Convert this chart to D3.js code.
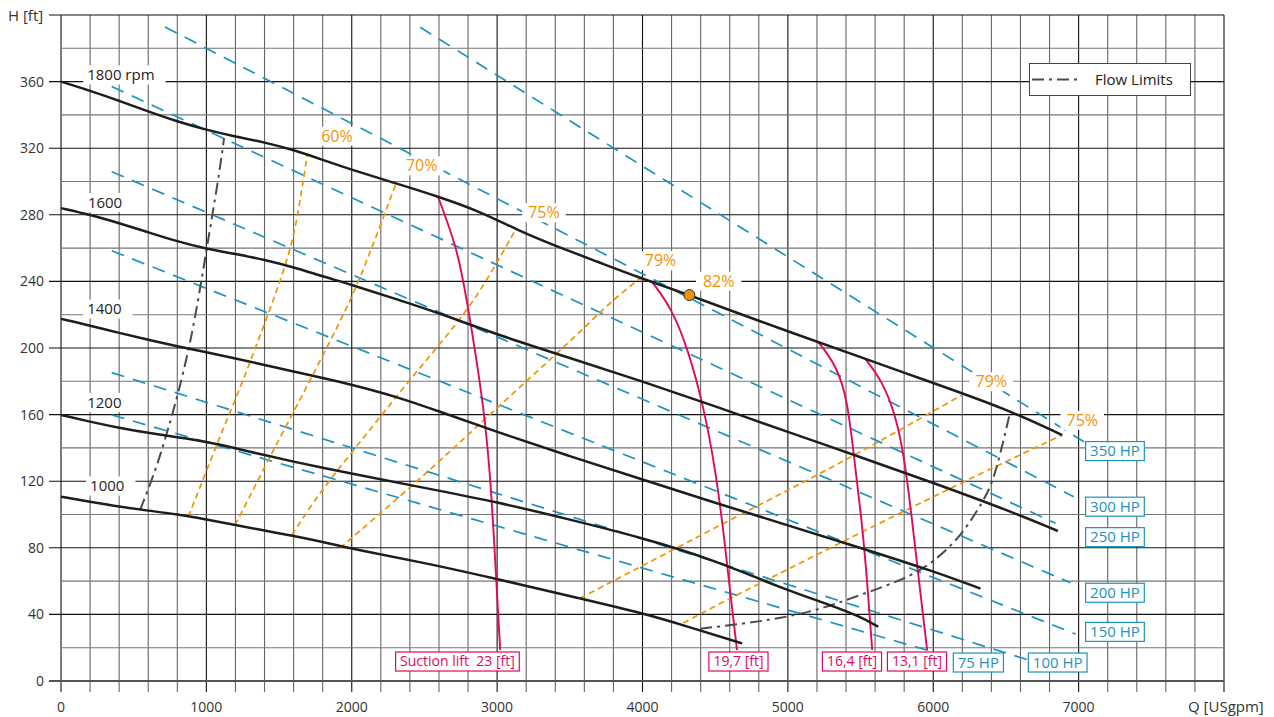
<!DOCTYPE html>
<html>
<head>
<meta charset="utf-8">
<script src="https://cdn.jsdelivr.net/npm/d3@7"></script>
<style>
body { margin: 0; background: #fff; }
text { font-family: 'Open Sans', sans-serif; }
</style>
</head>
<body>
<script>
// speed curves (Q in USgpm, H in ft)
const speeds = ['1800 rpm', '1600', '1400', '1200', '1000'];
const speedQ = [
    [0, 200, 400, 600, 800, 1000, 1200, 1400, 1600, 1800, 2000, 2300, 2593, 2884, 3159, 3411, 3700, 3985, 4322, 4700, 5000, 5500, 6000, 6500, 6887],
    [0, 200, 400, 600, 800, 1000, 1200, 1400, 1600, 1800, 2000, 2300, 2600, 3000, 3500, 4000, 4500, 5000, 5500, 6000, 6500, 6857],
    [0, 200, 400, 600, 800, 1000, 1200, 1400, 1600, 1800, 2000, 2300, 2600, 3000, 3500, 4000, 4500, 5000, 5500, 6000, 6325],
    [0, 200, 400, 600, 800, 1000, 1200, 1400, 1600, 1800, 2000, 2500, 3000, 3500, 4000, 4500, 4948, 5293, 5499, 5622],
    [0, 200, 400, 600, 800, 1000, 1200, 1400, 1600, 1800, 1900, 2000, 2500, 3000, 3572, 4008, 4300, 4685]
];
const speedH = [
    [360, 354.5, 348.5, 342, 336, 331, 327, 323.5, 319, 313, 307, 299, 291, 282, 270, 261, 251.5, 242, 231.8, 219.5, 210, 194.5, 179, 163.5, 147.7],
    [284, 280, 275, 269.5, 264, 259.5, 256.5, 253, 248.5, 243, 238, 229.5, 221, 208, 194, 180, 165, 149.5, 134.5, 119, 103, 90.1],
    [217.5, 213.5, 209, 205, 201, 197.4, 193.8, 189.8, 185.8, 182, 178, 171, 162, 149.5, 135, 121, 107, 93.5, 80, 66, 55.5],
    [159.8, 155.7, 152, 149, 146.4, 143.7, 139.8, 135.7, 131.7, 128.1, 124.5, 116, 107.5, 97, 86, 72.5, 56, 45.6, 38.6, 32.6],
    [110.7, 107.7, 104.7, 102.3, 100.1, 97.1, 93.7, 90.3, 87.1, 83.5, 81.5, 79.5, 71, 61.3, 49.5, 40.6, 33, 22.6]
];

// power lines
const powers = ['350 HP', '300 HP', '250 HP', '200 HP', '150 HP', '100 HP', '75 HP'];
const powerQ = [[2471, 7036], [716, 6966], [349, 6841], [349, 6944], [349, 6979], [349, 6655], [349, 6098]];
const powerH = [[392.6, 143.7], [392.8, 110.7], [357, 94.7], [305.9, 59], [258.4, 28.2], [185.2, 12.6], [159.8, 15]];

// efficiency curves
const effNames = ['60%', '70%', '75%', '79%', '79%', '75%'];
const effQ = [
    [876, 1071, 1301, 1576, 1667, 1695],
    [1198, 1434, 1714, 1989, 2150, 2306],
    [1588, 1782, 2300, 2838, 3125],
    [1920, 2500, 3000, 3500, 3801, 3997],
    [3572, 4500, 5400, 6199],
    [4281, 4581, 6118, 6887]
];
const effH = [
    [98.7, 141.7, 191.8, 259.8, 300.9, 317],
    [93.7, 134, 180.8, 228.8, 263, 299.3],
    [87.7, 112.7, 170, 228.8, 270.9],
    [79.9, 124, 164, 204, 228.8, 242.8],
    [49.8, 92, 133, 171.8],
    [34.8, 48.6, 115.7, 147.7]
];
const bestName = '82%';
const bestQ = 4322;
const bestH = 231.8;

// suction lift curves
const lifts = ['Suction lift  23 [ft]', '19,7 [ft]', '16,4 [ft]', '13,1 [ft]'];
const liftQ = [
    [2593, 2723, 2792, 2860, 2918, 2960, 2994, 3021],
    [4065, 4200, 4315, 4420, 4500, 4560, 4610, 4650],
    [5210, 5330, 5410, 5465, 5510, 5545, 5580],
    [5533, 5650, 5740, 5800, 5850, 5901, 5958]
];
const liftH = [
    [290.9, 260.8, 228.8, 192, 156.8, 115, 60.7, 18.6],
    [239.8, 224, 198.8, 165, 128, 88, 48, 18.6],
    [203.5, 190, 170, 126.7, 95, 60.7, 18.6],
    [193.5, 180, 160, 135, 100, 60.7, 18.6]
];

// flow limits
const flowQ = [
    [544, 640, 727, 888, 1002, 1082, 1122],
    [4398, 4700, 4948, 5200, 5400, 5795, 6000, 6199, 6348, 6405, 6463, 6527]
];
const flowH = [
    [102.7, 124, 147.7, 198.8, 259.8, 300.9, 326],
    [31.4, 34.5, 37.7, 42.5, 48.6, 60.7, 71, 87.7, 108.7, 118.7, 136.8, 160.8]
];

const xTicks = [0, 1000, 2000, 3000, 4000, 5000, 6000, 7000];
const yTicks = [0, 40, 80, 120, 160, 200, 240, 280, 320, 360];

// label anchors (data units)
const speedAt = [[180, 364], [185, 287.4], [180, 223.4], [180, 167.3], [200, 117.1]];
const effAt = [[1898, 327.2], [2481, 309.4], [3322, 281.2], [4124, 252.4], [6399, 179.7], [7025, 156.5]];
const bestAt = [4524, 240.1];
const powerAt = [[7048, 138.1], [7048, 104.7], [7048, 86.4], [7048, 53], [7048, 29.5], [6654, 11.1], [6138, 11.1]];
const liftAt = [[2727, 11.7], [4660, 11.7], [5441, 11.7], [5888, 11.7]];

const width = 1274;
const height = 717;

const black = '#1d1d1b';
const teal = '#1b93bd';
const orange = '#f39200';
const red = '#e3075d';
const gray = '#4a4a4a';

const svg = d3.select('body')
    .append('svg')
    .attr('width', width)
    .attr('height', height);

const x = d3.scaleLinear().domain([0, 8000]).range([61, 1224]);
const y = d3.scaleLinear().domain([0, 400]).range([681, 15]);

const pts = (qs, hs) => qs.map((q, i) => [q, hs[i]]);
const line = d3.line().x(d => x(d[0])).y(d => y(d[1]));

// grid
const grid = svg.append('g');
d3.range(0, 8001, 200).forEach(q => {
    grid.append('line')
        .attr('x1', x(q)).attr('x2', x(q))
        .attr('y1', y(400)).attr('y2', y(0) + 11)
        .attr('stroke', q % 1000 === 0 ? '#111' : '#666')
        .attr('stroke-width', 1.1);
});
d3.range(20, 401, 20).forEach(h => {
    grid.append('line')
        .attr('x1', h % 40 === 0 ? x(0) - 12 : x(0)).attr('x2', x(8000))
        .attr('y1', y(h)).attr('y2', y(h))
        .attr('stroke', h % 40 === 0 ? '#111' : '#777')
        .attr('stroke-width', 1.1);
});
grid.append('line')
    .attr('x1', x(0) - 12).attr('x2', x(8000))
    .attr('y1', y(0)).attr('y2', y(0))
    .attr('stroke', '#555')
    .attr('stroke-width', 2);

// axis labels
svg.selectAll('.ytick')
    .data(yTicks)
    .enter()
    .append('text')
    .attr('x', 44)
    .attr('y', d => y(d))
    .attr('dy', '0.36em')
    .attr('text-anchor', 'end')
    .style('font-size', '14px')
    .attr('fill', '#333')
    .text(d => d);

svg.selectAll('.xtick')
    .data(xTicks)
    .enter()
    .append('text')
    .attr('x', d => x(d))
    .attr('y', 712)
    .attr('text-anchor', 'middle')
    .style('font-size', '14px')
    .attr('fill', '#333')
    .text(d => d);

svg.append('text').attr('x', 8).attr('y', 21).style('font-size', '15px').attr('fill', '#333').text('H [ft]');
svg.append('text').attr('x', 1188).attr('y', 712).style('font-size', '15px').attr('fill', '#333').text('Q [USgpm]');

// power lines
svg.append('g').selectAll('path')
    .data(powers)
    .enter()
    .append('path')
    .attr('d', (d, i) => line.curve(d3.curveLinear)(pts(powerQ[i], powerH[i])))
    .attr('fill', 'none')
    .attr('stroke', teal)
    .attr('stroke-width', 1.7)
    .attr('stroke-dasharray', '13,9');

// efficiency curves
svg.append('g').selectAll('path')
    .data(effNames)
    .enter()
    .append('path')
    .attr('d', (d, i) => line.curve(d3.curveCatmullRom)(pts(effQ[i], effH[i])))
    .attr('fill', 'none')
    .attr('stroke', orange)
    .attr('stroke-width', 1.7)
    .attr('stroke-dasharray', '6,4');

// suction lift curves
svg.append('g').selectAll('path')
    .data(lifts)
    .enter()
    .append('path')
    .attr('d', (d, i) => line.curve(d3.curveBasis)(pts(liftQ[i], liftH[i])))
    .attr('fill', 'none')
    .attr('stroke', red)
    .attr('stroke-width', 1.9);

// flow limits
svg.append('g').selectAll('path')
    .data(flowQ)
    .enter()
    .append('path')
    .attr('d', (d, i) => line.curve(d3.curveBasis)(pts(flowQ[i], flowH[i])))
    .attr('fill', 'none')
    .attr('stroke', gray)
    .attr('stroke-width', 2)
    .attr('stroke-dasharray', '12,5,3,5');

// speed curves
svg.append('g').selectAll('path')
    .data(speeds)
    .enter()
    .append('path')
    .attr('d', (d, i) => line.curve(d3.curveBasis)(pts(speedQ[i], speedH[i])))
    .attr('fill', 'none')
    .attr('stroke', black)
    .attr('stroke-width', 2.5);

// text with white backing
const label = (txt, px, py, anchor, size, color, padL, padR, boxStroke) => {
    const g = svg.append('g');
    const t = g.append('text')
        .attr('x', px)
        .attr('y', py)
        .attr('dy', '0.35em')
        .attr('text-anchor', anchor)
        .style('font-size', size + 'px')
        .style('white-space', 'pre')
        .attr('fill', color)
        .text(txt);
    const b = t.node().getBBox();
    g.insert('rect', 'text')
        .attr('x', b.x - padL)
        .attr('y', py - 9.5)
        .attr('width', b.width + padL + padR)
        .attr('height', 19)
        .attr('fill', '#fff')
        .attr('stroke', boxStroke || 'none')
        .attr('stroke-width', 1.2);
};

speeds.forEach((s, i) => label(s, x(speedAt[i][0]), y(speedAt[i][1]), 'start', 15, '#222', 4, 11));
effNames.forEach((s, i) => label(s, x(effAt[i][0]), y(effAt[i][1]), 'middle', 16, orange, 6, 6));
label(bestName, x(bestAt[0]), y(bestAt[1]), 'middle', 16, orange, 7, 7);
powers.forEach((s, i) => label(s, x(powerAt[i][0]) + 4.5, y(powerAt[i][1]), 'start', 15, teal, 4.5, 4.5, teal));
lifts.forEach((s, i) => label(s, x(liftAt[i][0]), y(liftAt[i][1]), 'middle', 14, red, 4.5, 4.5, red));

// best efficiency point
svg.append('circle')
    .attr('cx', x(bestQ))
    .attr('cy', y(bestH))
    .attr('r', 5.5)
    .attr('fill', orange)
    .attr('stroke', '#333')
    .attr('stroke-width', 1);

// legend
const legend = svg.append('g');
legend.append('rect')
    .attr('x', 1029.5).attr('y', 63.5)
    .attr('width', 161).attr('height', 32)
    .attr('fill', '#fff')
    .attr('stroke', '#444');
legend.append('line')
    .attr('x1', 1032).attr('x2', 1082)
    .attr('y1', 79.5).attr('y2', 79.5)
    .attr('stroke', gray)
    .attr('stroke-width', 2)
    .attr('stroke-dasharray', '12,5,3,5');
legend.append('text')
    .attr('x', 1095).attr('y', 79.5)
    .attr('dy', '0.35em')
    .style('font-size', '15px')
    .attr('fill', '#222')
    .text('Flow Limits');
</script>
</body>
</html>
